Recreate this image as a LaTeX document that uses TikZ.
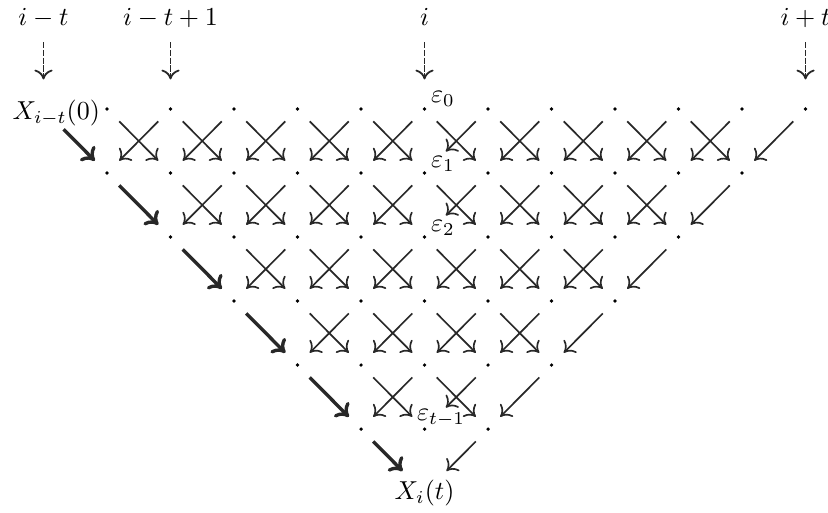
\documentclass[tikz,border=0pt]{standalone}
\usetikzlibrary{arrows.meta}
\definecolor{inkgray}{RGB}{40,40,40}
\tikzstyle{pt}=[circle, inner sep=0pt, minimum size=0.456cm]
\tikzstyle{thinarr}=[-{To[length=3.8pt,width=7pt]}, line width=0.65pt, color=inkgray]
\tikzstyle{thkarr}=[-{To[length=4.5pt,width=8pt]}, line width=1.3pt, color=inkgray]
\tikzstyle{darr}=[-{To[length=3.8pt,width=7pt]}, line width=0.7pt, color=inkgray,
  dash pattern=on 2.4pt off 0.6pt, shorten <=3pt, shorten >=4.7pt]
\tikzstyle{toplbl}=[anchor=base, text depth=0pt]
\tikzstyle{elab}=[anchor=base, inner sep=0pt]

\begin{document}
\begin{tikzpicture}[x=0.86cm, y=0.867cm]
  \useasboundingbox (-0.685,1.703) rectangle (12.354,-6.297);
  % lattice points: row r has columns r..12-r
  \foreach \r in {0,...,5} {
    \pgfmathtruncatemacro\chi{12-\r}
    \foreach \c in {\r,...,\chi} {
      \node[pt] (n-\r-\c) at (\c,-\r) {};
      \ifnum\c>0 \fill (n-\r-\c) circle (0.72pt); \fi
    }
  }
  \node (x0) at (0.2,-0.06) {$X_{i-t}(0)$};
  \node (n-6-6) at (6,-6) {$X_i(t)$};
  % positions on top
  \node[toplbl] (l0) at (0,1.31) {$i-t$};
  \node[toplbl] (l2) at (2,1.31) {$i-t+1$};
  \node[toplbl] (l6) at (6,1.31) {$i$};
  \node[toplbl] (l12) at (12,1.31) {$i+t$};
  \node[elab] (e0) at (6.29,0.1) {$\varepsilon_0$};
  \node[elab] (e1) at (6.29,-0.92) {$\varepsilon_1$};
  \node[elab] (e2) at (6.29,-1.92) {$\varepsilon_2$};
  \node[elab] (e5) at (6.26,-4.86) {$\varepsilon_{t-1}$};
  \foreach \c in {0,2,6,12}
    \draw[darr] (l\c) -- (n-0-\c);
  % left edge
  \draw[thkarr, shorten <=4.3pt] (n-0-0) -- (n-1-1);
  \foreach \r in {1,...,5} {
    \pgfmathtruncatemacro\nr{\r+1}
    \draw[thkarr] (n-\r-\r) -- (n-\nr-\nr);
  }
  % crossings
  \foreach \r in {0,...,4} {
    \pgfmathtruncatemacro\nr{\r+1}
    \pgfmathtruncatemacro\chi{10-\r}
    \foreach \c in {\nr,...,\chi} {
      \pgfmathtruncatemacro\nc{\c+1}
      \draw[thinarr] (n-\r-\c) -- (n-\nr-\nc);
    }
  }
  \foreach \r in {0,...,5} {
    \pgfmathtruncatemacro\nr{\r+1}
    \pgfmathtruncatemacro\clo{\r+2}
    \pgfmathtruncatemacro\chi{12-\r}
    \foreach \c in {\clo,...,\chi} {
      \pgfmathtruncatemacro\nc{\c-1}
      \pgfmathsetmacro\cut{5*(\c==7)*((\r==0)+(\r==1)+(\r==4))}
      \draw[thinarr, shorten >=\cut pt] (n-\r-\c) -- (n-\nr-\nc);
    }
  }
\end{tikzpicture}
\end{document}
